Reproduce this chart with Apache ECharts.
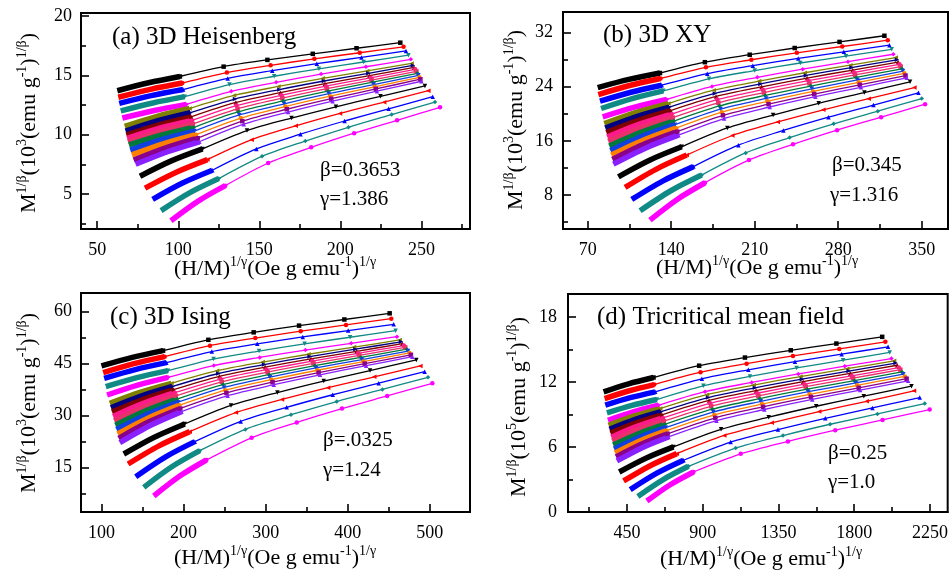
<!DOCTYPE html>
<html>
<head>
<meta charset="utf-8">
<script src="https://cdn.jsdelivr.net/npm/echarts@6.0.0/dist/echarts.min.js"></script>
<style>
  html, body { margin: 0; padding: 0; background: #fff; }
  #chart { width: 951px; height: 578px; }
</style>
</head>
<body>
<div id="chart"></div>
<script>
// each curve: start of dense part, middle, end of dense part, then the sparse points
const heisenbergCurves = [
  [[62.4,13.7],[81.7,14.37],[101,14.9],[128,15.73],[155,16.3],[183,16.81],[210,17.28],[237,17.75]],
  [[63,13.15],[82.8,13.82],[102.5,14.35],[130,15.23],[157,15.84],[184,16.39],[212,16.9],[239,17.4]],
  [[63.6,12.64],[83.3,13.29],[103,13.8],[130.5,14.74],[158,15.39],[185.5,15.98],[213,16.51],[240.5,17.05]],
  [[64.5,12.0],[84.3,12.67],[104,13.2],[131.6,14.22],[159.2,14.92],[186.8,15.55],[214.4,16.12],[242,16.7]],
  [[65.5,11.4],[85.3,12.04],[105,12.55],[132.7,13.65],[160.4,14.41],[188.1,15.1],[215.8,15.72],[243.5,16.35]],
  [[67,10.7],[87,11.54],[107,12.2],[134.4,13.3],[161.8,14.06],[189.2,14.75],[216.6,15.37],[244,16.0]],
  [[67.5,10.3],[87.5,11.17],[107.5,11.85],[135,13.0],[162.4,13.8],[189.9,14.52],[217.3,15.17],[244.8,15.83]],
  [[68,9.97],[88,10.83],[108,11.5],[135.5,12.71],[163,13.54],[190.5,14.29],[218,14.97],[245.5,15.66]],
  [[68.5,9.69],[88.5,10.54],[108.5,11.2],[136,12.45],[163.6,13.31],[191.1,14.08],[218.7,14.79],[246.2,15.5]],
  [[69,9.4],[89,10.24],[109,10.9],[136.6,12.18],[164.2,13.07],[191.7,13.87],[219.3,14.6],[246.9,15.33]],
  [[69.6,9.13],[89.6,9.95],[109.5,10.6],[137.1,11.93],[164.7,12.84],[192.3,13.66],[219.9,14.42],[247.5,15.17]],
  [[70.4,8.7],[90.2,9.6],[110,10.3],[137.6,11.66],[165.3,12.6],[192.9,13.45],[220.6,14.22],[248.2,15.0]],
  [[71.4,8.3],[91.2,9.25],[111,10.0],[138.6,11.4],[166.1,12.37],[193.7,13.24],[221.2,14.03],[248.8,14.83]],
  [[72.5,7.86],[92.3,8.89],[112,9.7],[139.5,11.14],[167,12.14],[194.4,13.03],[221.9,13.85],[249.4,14.67]],
  [[73.7,7.5],[93.4,8.56],[113,9.4],[140.4,10.88],[167.8,11.9],[195.2,12.82],[222.6,13.66],[250,14.5]],
  [[76.4,6.5],[95.7,7.79],[115,8.8],[142.4,10.34],[169.9,11.4],[197.3,12.35],[224.8,13.23],[252.2,14.1]],
  [[79.5,5.5],[98.8,6.84],[118,7.9],[145.3,9.58],[172.5,10.74],[199.8,11.79],[227,12.74],[254.3,13.7]],
  [[84.2,4.55],[102.6,5.92],[121,7.0],[148.2,8.8],[175.4,10.04],[202.6,11.15],[229.8,12.18],[257,13.2]],
  [[89.4,3.6],[107.2,5.11],[125,6.3],[151.7,8.17],[178.4,9.46],[205,10.62],[231.7,11.69],[258.4,12.75]],
  [[95.5,2.75],[112.3,4.4],[129,5.7],[155.5,7.61],[182,8.93],[208.5,10.12],[235,11.21],[261.5,12.3]]
];

const xyCurves = [
  [[78.4,23.86],[104.5,25.06],[130.6,26.0],[168.2,27.6],[205.8,28.7],[243.5,29.69],[281.1,30.59],[318.7,31.5]],
  [[78.9,22.83],[105,24.16],[131,25.2],[169.1,26.84],[207.2,27.96],[245.3,28.98],[283.4,29.91],[321.5,30.84]],
  [[80.3,21.85],[106.2,23.17],[132,24.2],[170.2,25.91],[208.4,27.09],[246.5,28.15],[284.7,29.13],[322.9,30.1]],
  [[81.2,20.77],[107.3,22.23],[133.4,23.37],[171.7,25.15],[210,26.37],[248.2,27.48],[286.5,28.49],[324.8,29.5]],
  [[82.6,19.54],[109.4,20.97],[136.2,22.1],[174.2,24.03],[212.2,25.37],[250.2,26.57],[288.2,27.67],[326.2,28.77]],
  [[83.9,18.56],[110.8,20.21],[137.6,21.5],[175.7,23.47],[213.8,24.82],[252,26.04],[290.1,27.16],[328.2,28.28]],
  [[84.7,17.89],[111.6,19.62],[138.5,20.98],[176.6,23.0],[214.8,24.4],[252.9,25.65],[291.1,26.8],[329.2,27.95]],
  [[85.6,17.23],[112.6,19.04],[139.5,20.46],[177.6,22.54],[215.8,23.97],[253.9,25.26],[292.1,26.44],[330.2,27.62]],
  [[86.4,16.56],[113.4,18.46],[140.4,19.95],[178.6,22.08],[216.8,23.55],[254.9,24.87],[293.1,26.08],[331.3,27.29]],
  [[87.3,15.9],[114.3,17.88],[141.3,19.43],[179.5,21.61],[217.7,23.12],[255.9,24.47],[294.1,25.72],[332.3,26.96]],
  [[88.1,15.23],[115.2,17.29],[142.3,18.91],[180.5,21.15],[218.7,22.69],[256.9,24.08],[295.1,25.35],[333.3,26.62]],
  [[89,14.57],[116.1,16.71],[143.2,18.39],[181.4,20.68],[219.6,22.26],[257.9,23.68],[296.1,24.99],[334.3,26.29]],
  [[89.8,13.9],[117,16.12],[144.1,17.87],[182.4,20.22],[220.6,21.83],[258.9,23.29],[297.1,24.63],[335.4,25.96]],
  [[90.7,13.24],[117.9,15.55],[145.1,17.36],[183.4,19.76],[221.6,21.41],[259.9,22.9],[298.1,24.27],[336.4,25.63]],
  [[91.5,12.57],[118.8,14.96],[146,16.84],[184.3,19.29],[222.6,20.99],[260.8,22.51],[299.1,23.9],[337.4,25.3]],
  [[95.7,10.7],[122.3,13.18],[148.8,15.12],[187.1,17.9],[225.4,19.81],[263.6,21.54],[301.9,23.12],[340.2,24.7]],
  [[101.3,9.13],[127.2,11.8],[153,13.9],[191.2,16.79],[229.3,18.78],[267.5,20.57],[305.6,22.22],[343.8,23.86]],
  [[106.9,7.36],[132.8,10.07],[158.6,12.2],[196.3,15.36],[234,17.53],[271.8,19.49],[309.5,21.28],[347.2,23.08]],
  [[113.9,5.69],[139.7,8.64],[165.5,10.95],[202.4,14.22],[239.3,16.48],[276.2,18.51],[313.1,20.38],[350,22.24]],
  [[122.2,4.32],[145.3,7.4],[168.3,9.82],[205.2,13.18],[242.1,15.49],[279,17.58],[315.9,19.49],[352.8,21.4]]
];

const isingCurves = [
  [[99.9,44.35],[137.5,46.83],[175,48.77],[230.2,51.9],[285.4,54.05],[340.7,55.99],[395.9,57.76],[451.1,59.54]],
  [[102,42.42],[139.5,45.01],[177,47.04],[232.2,50.22],[287.4,52.41],[342.7,54.38],[397.9,56.19],[453.1,58.0]],
  [[103.2,40.79],[141.1,43.32],[179,45.31],[234.4,48.52],[289.8,50.73],[345.2,52.72],[400.6,54.55],[456,56.37]],
  [[105.2,38.39],[143.1,40.97],[181,43.0],[236.5,46.35],[292,48.65],[347.4,50.73],[402.9,52.64],[458.4,54.54]],
  [[106.8,35.98],[144,38.84],[181.1,41.08],[236.9,44.48],[292.7,46.82],[348.4,48.93],[404.2,50.87],[460,52.8]],
  [[110.1,33.58],[147.7,36.81],[185.2,39.35],[240.8,42.98],[296.4,45.48],[352.1,47.73],[407.7,49.79],[463.3,51.85]],
  [[111.5,32.32],[149.1,35.75],[186.6,38.44],[242.3,42.18],[298,44.75],[353.6,47.07],[409.3,49.19],[465,51.32]],
  [[112.8,31.06],[150.4,34.68],[187.9,37.53],[243.7,41.37],[299.4,44.02],[355.2,46.41],[410.9,48.59],[466.7,50.78]],
  [[114.2,29.8],[151.8,33.63],[189.3,36.63],[245.1,40.58],[300.9,43.3],[356.8,45.76],[412.6,48.0],[468.4,50.25]],
  [[115.5,28.54],[153.1,32.56],[190.6,35.72],[246.5,39.78],[302.4,42.58],[358.3,45.09],[414.2,47.4],[470.1,49.71]],
  [[116.9,27.27],[154.5,31.49],[192,34.81],[248,38.98],[304,41.85],[359.9,44.44],[415.9,46.81],[471.9,49.18]],
  [[118.2,26.01],[155.8,30.43],[193.3,33.9],[249.4,38.17],[305.4,41.12],[361.5,43.78],[417.5,46.21],[473.6,48.64]],
  [[119.6,24.75],[157.2,29.36],[194.7,32.99],[250.8,37.37],[307,40.4],[363.1,43.12],[419.2,45.62],[475.3,48.11]],
  [[120.9,23.49],[158.5,28.31],[196,32.09],[252.2,36.58],[308.4,39.68],[364.6,42.46],[420.8,45.02],[477,47.57]],
  [[122.3,22.23],[159.9,27.24],[197.4,31.18],[253.7,35.78],[309.9,38.95],[366.2,41.81],[422.4,44.42],[478.7,47.04]],
  [[127.1,18.96],[164.3,23.81],[201.4,27.62],[257.8,32.97],[314.3,36.67],[370.7,39.99],[427.2,43.03],[483.6,46.08]],
  [[132.4,16.08],[170,21.31],[207.5,25.41],[263.7,30.9],[319.9,34.69],[376.1,38.1],[432.3,41.22],[488.5,44.35]],
  [[141.7,12.43],[177.7,18.08],[213.6,22.52],[269.6,28.37],[325.6,32.41],[381.7,36.05],[437.7,39.38],[493.7,42.71]],
  [[151.5,9.35],[185.6,15.27],[219.7,19.92],[275.3,26.06],[330.9,30.29],[386.6,34.1],[442.2,37.59],[497.8,41.08]],
  [[163.7,6.85],[195.8,12.66],[227.8,17.23],[282.9,23.64],[337.9,28.07],[393,32.05],[448,35.7],[503.1,39.35]]
];

const tricriticalCurves = [
  [[311.5,11.08],[459.7,11.82],[607.9,12.4],[879,13.49],[1151,14.24],[1423,14.91],[1694,15.53],[1966,16.15]],
  [[317.4,10.46],[464.7,11.18],[612,11.75],[887,12.89],[1161,13.68],[1436,14.39],[1711,15.04],[1985,15.69]],
  [[321.4,9.85],[469.6,10.54],[617.8,11.08],[895,12.28],[1171,13.11],[1448,13.86],[1725,14.55],[2001,15.23]],
  [[331.2,9.14],[479.5,9.83],[627.7,10.37],[904,11.63],[1181,12.5],[1458,13.28],[1734,14.0],[2011,14.71]],
  [[337.2,8.46],[487.4,9.23],[637.6,9.84],[914,11.09],[1191,11.95],[1468,12.73],[1744,13.44],[2021,14.15]],
  [[341.1,8.0],[494.3,8.86],[647.4,9.54],[925,10.82],[1203,11.7],[1481,12.49],[1759,13.21],[2037,13.94]],
  [[346.6,7.63],[499.8,8.54],[652.9,9.25],[932,10.55],[1210,11.45],[1489,12.25],[1767,12.99],[2046,13.73]],
  [[352.1,7.27],[505.3,8.22],[658.4,8.96],[938,10.29],[1217,11.2],[1497,12.02],[1776,12.78],[2055,13.53]],
  [[357.6,6.9],[510.8,7.89],[663.9,8.67],[944,10.02],[1224,10.95],[1504,11.79],[1784,12.55],[2065,13.32]],
  [[363.1,6.54],[516.3,7.57],[669.4,8.38],[950,9.75],[1231,10.7],[1512,11.56],[1793,12.34],[2074,13.12]],
  [[368.5,6.17],[521.7,7.24],[674.9,8.08],[957,9.48],[1238,10.45],[1520,11.32],[1801,12.11],[2083,12.91]],
  [[374,5.81],[527.2,6.92],[680.4,7.79],[963,9.22],[1245,10.2],[1527,11.09],[1810,11.9],[2092,12.71]],
  [[379.5,5.44],[532.7,6.59],[685.9,7.5],[969,8.95],[1252,9.95],[1535,10.85],[1818,11.68],[2101,12.5]],
  [[385,5.08],[538.2,6.27],[691.4,7.21],[975,8.68],[1259,9.7],[1543,10.61],[1827,11.45],[2111,12.29]],
  [[390.5,4.71],[543.7,5.95],[696.9,6.92],[982,8.42],[1266,9.45],[1551,10.38],[1835,11.24],[2120,12.09]],
  [[404.4,3.69],[565.5,4.98],[726.5,6.0],[1009,7.62],[1292,8.74],[1574,9.75],[1857,10.68],[2140,11.6]],
  [[430.1,2.86],[588.2,4.27],[746.3,5.38],[1028,7.06],[1310,8.22],[1592,9.26],[1874,10.21],[2155,11.17]],
  [[469.6,2.06],[627.7,3.58],[785.8,4.77],[1066,6.45],[1347,7.6],[1628,8.64],[1908,9.6],[2189,10.55]],
  [[515,1.44],[665.2,2.99],[815.4,4.21],[1096,5.89],[1377,7.05],[1657,8.09],[1938,9.04],[2219,10.0]],
  [[568.4,1.01],[706.8,2.51],[845.1,3.69],[1126,5.36],[1406,6.51],[1687,7.54],[1968,8.49],[2248,9.44]]
];

// tick labels (major ticks) and minor tick marks
const heisenbergXLabels = [50, 100, 150, 200, 250];
const heisenbergXMinor = [75, 125, 175, 225, 275];
const heisenbergYLabels = [5, 10, 15, 20];
const heisenbergYMinor = [2.5, 7.5, 12.5, 17.5];

const xyXLabels = [70, 140, 210, 280, 350];
const xyXMinor = [105, 175, 245, 315];
const xyYLabels = [8, 16, 24, 32];
const xyYMinor = [4, 12, 20, 28];

const isingXLabels = [100, 200, 300, 400, 500];
const isingXMinor = [150, 250, 350, 450];
const isingYLabels = [15, 30, 45, 60];
const isingYMinor = [7.5, 22.5, 37.5, 52.5];

const tricriticalXLabels = [450, 900, 1350, 1800, 2250];
const tricriticalXMinor = [225, 675, 1125, 1575, 2025];
const tricriticalYLabels = [0, 6, 12, 18];
const tricriticalYMinor = [3, 9, 15];

const panelTitles = ['(a) 3D Heisenberg', '(b) 3D XY', '(c) 3D Ising', '(d) Tricritical mean field'];
const betaTexts = ['β=0.3653', 'β=0.345', 'β=.0325', 'β=0.25'];
const gammaTexts = ['γ=1.386', 'γ=1.316', 'γ=1.24', 'γ=1.0'];
const magnetExponents = ['3', '3', '3', '5'];

// styles
const curveColors = [
  '#000000', '#ff0000', '#0000ff', '#108a84', '#ff00ff',
  '#808000', '#000080', '#800000', '#ff1a8c', '#e8306a',
  '#007a3a', '#1040e0', '#ff8000', '#8a008a', '#8a20ff',
  '#000000', '#ff0000', '#0000ff', '#108a84', '#ff00ff'
];
const curveSymbols = [
  'rect', 'circle', 'triangle', 'triangle', 'diamond',
  'triangle', 'triangle', 'triangle', 'circle', 'rect',
  'diamond', 'triangle', 'circle', 'rect', 'triangle',
  'triangle', 'triangle', 'triangle', 'diamond', 'circle'
];
const curveRotations = [0, 0, 0, 180, 0, 90, -90, 0, 0, 0, 0, 180, 0, 0, 0, 180, 90, 0, 0, 0];

const FONT = '"Liberation Serif", "Times New Roman", serif';

const panels = [
  { curves: heisenbergCurves, grid: { left: 81, top: 13, width: 389, height: 216 },
    xRange: [40, 280], yRange: [2.05, 20.25],
    xLabels: heisenbergXLabels, xMinor: heisenbergXMinor, yLabels: heisenbergYLabels, yMinor: heisenbergYMinor,
    yLabelMargin: 9, title: [112, 37], beta: [320, 170], gamma: [320, 199], xName: [275, 268], yName: [28, 123] },
  { curves: xyCurves, grid: { left: 563, top: 12, width: 385, height: 217 },
    xRange: [49.3, 372], yRange: [3, 35],
    xLabels: xyXLabels, xMinor: xyXMinor, yLabels: xyYLabels, yMinor: xyYMinor,
    yLabelMargin: 10, title: [603, 35], beta: [832, 165], gamma: [830, 195], xName: [757, 267], yName: [515, 120] },
  { curves: isingCurves, grid: { left: 81, top: 293, width: 389, height: 219 },
    xRange: [75, 549], yRange: [2.23, 65.4],
    xLabels: isingXLabels, xMinor: isingXMinor, yLabels: isingYLabels, yMinor: isingYMinor,
    yLabelMargin: 9, title: [110, 317], beta: [323, 440], gamma: [323, 470], xName: [275, 557], yName: [28, 403] },
  { curves: tricriticalCurves, grid: { left: 568, top: 294, width: 380, height: 218 },
    xRange: [100, 2355], yRange: [0, 20.1],
    xLabels: tricriticalXLabels, xMinor: tricriticalXMinor, yLabels: tricriticalYLabels, yMinor: tricriticalYMinor,
    yLabelMargin: 11, title: [597, 317], beta: [828, 453], gamma: [828, 482], xName: [761, 558], yName: [518, 407] }
];

const richTitle = {
  n: { fontFamily: FONT, fontSize: 22, lineHeight: 25, verticalAlign: 'bottom', fill: '#000' },
  s: { fontFamily: FONT, fontSize: 14, lineHeight: 25, verticalAlign: 'top', fill: '#000' }
};

const grids = [], xAxes = [], yAxes = [], series = [], graphics = [];
const tickStyle = { color: '#000', width: 1.6 };
const plain = v => String(v);

panels.forEach((p, g) => {
  grids.push(Object.assign({ show: true, borderColor: '#000', borderWidth: 2, containLabel: false }, p.grid));

  // main axes: labels and long ticks
  xAxes.push({
    type: 'value', gridIndex: g, position: 'bottom', min: p.xRange[0], max: p.xRange[1],
    axisLine: { show: true, onZero: false, lineStyle: { color: '#000', width: 2 } },
    splitLine: { show: false },
    axisTick: { show: true, inside: true, length: 8, customValues: p.xLabels, lineStyle: tickStyle },
    axisLabel: { customValues: p.xLabels, formatter: plain, color: '#000', fontFamily: FONT, fontSize: 18, margin: 12 }
  });
  yAxes.push({
    type: 'value', gridIndex: g, position: 'left', min: p.yRange[0], max: p.yRange[1],
    axisLine: { show: true, onZero: false, lineStyle: { color: '#000', width: 2 } },
    splitLine: { show: false },
    axisTick: { show: true, inside: true, length: 8, customValues: p.yLabels, lineStyle: tickStyle },
    axisLabel: { customValues: p.yLabels, formatter: plain, color: '#000', fontFamily: FONT, fontSize: 18, margin: p.yLabelMargin }
  });
});

// second set of axes per panel: short minor ticks only
panels.forEach((p, g) => {
  xAxes.push({
    type: 'value', gridIndex: g, position: 'bottom', min: p.xRange[0], max: p.xRange[1],
    axisLine: { show: false }, splitLine: { show: false }, axisLabel: { show: false },
    axisTick: { show: true, inside: true, length: 5, customValues: p.xMinor, lineStyle: tickStyle }
  });
  yAxes.push({
    type: 'value', gridIndex: g, position: 'left', min: p.yRange[0], max: p.yRange[1],
    axisLine: { show: false }, splitLine: { show: false }, axisLabel: { show: false },
    axisTick: { show: true, inside: true, length: 5, customValues: p.yMinor, lineStyle: tickStyle }
  });
});

panels.forEach((p, g) => {
  p.curves.forEach((pts, i) => {
    const color = curveColors[i];
    // dense low-field part drawn as a thick band
    series.push({
      type: 'line', xAxisIndex: g, yAxisIndex: g, data: pts.slice(0, 3),
      smooth: 0.3, showSymbol: false, silent: true,
      lineStyle: { color, width: 5.5 }
    });
    series.push({
      type: 'line', xAxisIndex: g, yAxisIndex: g, data: pts.slice(2),
      smooth: 0.3, showAllSymbol: true,
      symbol: curveSymbols[i], symbolRotate: curveRotations[i], symbolSize: 4.5,
      itemStyle: { color }, lineStyle: { color, width: 1.3 }
    });
  });

  graphics.push({
    type: 'text', x: p.title[0], y: p.title[1],
    style: { text: panelTitles[g], font: '25px ' + FONT, fill: '#000', align: 'left', verticalAlign: 'middle' }
  });
  graphics.push({
    type: 'text', x: p.beta[0], y: p.beta[1],
    style: { text: betaTexts[g], font: '21px ' + FONT, fill: '#000', align: 'left', verticalAlign: 'middle' }
  });
  graphics.push({
    type: 'text', x: p.gamma[0], y: p.gamma[1],
    style: { text: gammaTexts[g], font: '21px ' + FONT, fill: '#000', align: 'left', verticalAlign: 'middle' }
  });
  graphics.push({
    type: 'text', x: p.xName[0], y: p.xName[1],
    style: {
      text: '{n|(H/M)}{s|1/γ}{n|(Oe g emu}{s|-1}{n|)}{s|1/γ}',
      rich: richTitle, align: 'center', verticalAlign: 'middle', fill: '#000'
    }
  });
  graphics.push({
    type: 'text', x: p.yName[0], y: p.yName[1], rotation: Math.PI / 2,
    style: {
      text: '{n|M}{s|1/β}{n|(10}{s|' + magnetExponents[g] + '}{n|(emu g}{s|-1}{n|)}{s|1/β}{n|)}',
      rich: richTitle, align: 'center', verticalAlign: 'middle', fill: '#000'
    }
  });
});

const chart = echarts.init(document.getElementById('chart'), null, { renderer: 'canvas' });
chart.setOption({
  backgroundColor: '#fff',
  animation: false,
  grid: grids,
  xAxis: xAxes,
  yAxis: yAxes,
  series: series,
  graphic: graphics
});
</script>
</body>
</html>
